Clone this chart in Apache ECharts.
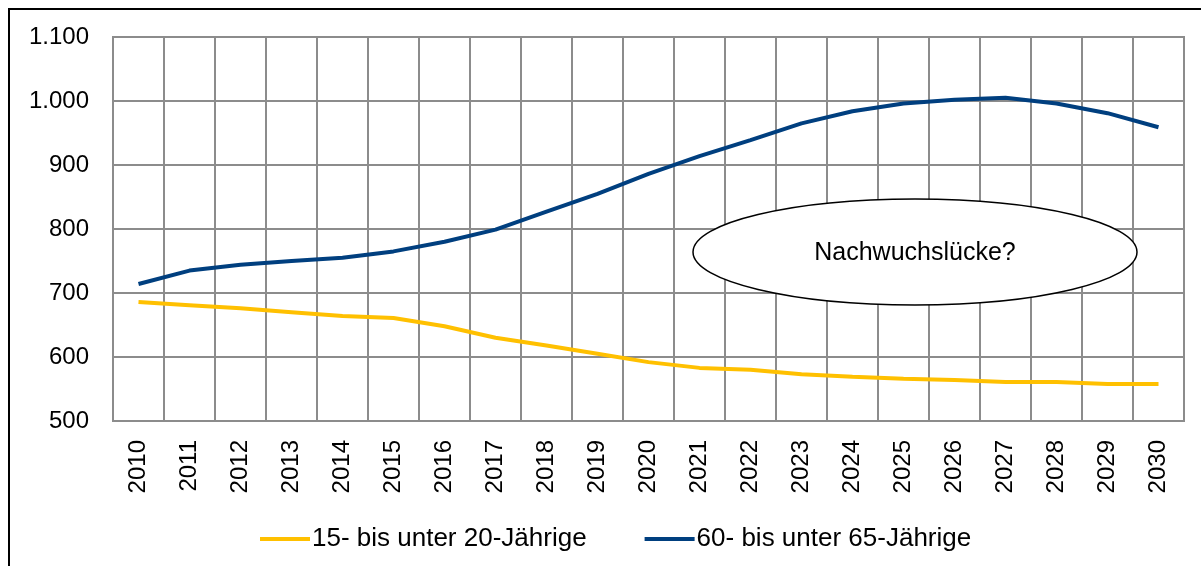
<!DOCTYPE html>
<html>
<head>
<meta charset="utf-8">
<script src="https://cdn.jsdelivr.net/npm/echarts@6/dist/echarts.min.js"></script>
<style>
html,body{margin:0;padding:0;background:#fff;}
#chart{width:1201px;height:566px;}
</style>
</head>
<body>
<div id="chart"></div>
<script>
const years = ['2010','2011','2012','2013','2014','2015','2016','2017','2018','2019','2020','2021','2022','2023','2024','2025','2026','2027','2028','2029','2030'];
const youngName = '15- bis unter 20-Jährige';
const oldName = '60- bis unter 65-Jährige';
const youngValues = [686, 681, 676, 670, 664, 661, 648, 630, 618, 605, 592, 583, 580, 573, 569, 566, 564, 561, 561, 558, 558];
const oldValues = [714, 735, 744, 750, 755, 765, 780, 799, 827, 855, 886, 914, 939, 965, 984, 996, 1002, 1005, 996, 981, 959];
const yMin = 500, yMax = 1100, yStep = 100;
const annotationText = 'Nachwuchslücke?';

const FONT = 'Liberation Sans, Arial, sans-serif';
const GRID = '#8c8c8c';

function fmt(v){
  return String(v).replace(/\B(?=(\d{3})+(?!\d))/g, '.');
}

const chart = echarts.init(document.getElementById('chart'), null, {renderer:'canvas'});
chart.setOption({
  animation: false,
  backgroundColor: '#fff',
  grid: {left: 113, right: 17, top: 37, bottom: 145, show: true, borderColor: GRID, borderWidth: 2, backgroundColor: 'transparent'},
  legend: {
    data: [youngName, oldName],
    left: 255, top: 521,
    icon: 'rect', itemWidth: 50, itemHeight: 4, itemGap: 58,
    textStyle: {fontFamily: FONT, fontSize: 26, color: '#000', padding: [0,0,0,-3]}
  },
  xAxis: {
    type: 'category', data: years, boundaryGap: true,
    axisLine: {show: true, lineStyle: {color: GRID, width: 2}},
    axisTick: {show: false},
    splitLine: {show: true, lineStyle: {color: GRID, width: 2}},
    axisLabel: {rotate: 90, margin: 19, fontFamily: FONT, fontSize: 24, color: '#000', interval: 0}
  },
  yAxis: {
    type: 'value', min: yMin, max: yMax, interval: yStep,
    axisLine: {show: true, lineStyle: {color: GRID, width: 2}},
    axisTick: {show: false},
    splitLine: {show: true, lineStyle: {color: GRID, width: 2}},
    axisLabel: {margin: 24, fontFamily: FONT, fontSize: 24, color: '#000', formatter: fmt}
  },
  series: [
    {name: youngName, type: 'line', data: youngValues, symbol: 'none', lineStyle: {color: '#FFC000', width: 4}, itemStyle: {color: '#FFC000'}, z: 3},
    {name: oldName, type: 'line', data: oldValues, symbol: 'none', lineStyle: {color: '#003F7F', width: 4}, itemStyle: {color: '#003F7F'}, z: 3}
  ],
  graphic: [
    {type: 'polyline', shape: {points: [[9,566],[9,9],[1201,9]]}, style: {stroke: '#000', lineWidth: 2, fill: null}, z: 100},
    {type: 'ellipse', shape: {cx: 915, cy: 252, rx: 222, ry: 53}, style: {fill: '#fff', stroke: '#000', lineWidth: 1.5}, z: 50},
    {type: 'text', x: 915, y: 253, style: {text: annotationText, font: '25px ' + FONT, fill: '#000', align: 'center', verticalAlign: 'middle'}, z: 51}
  ]
});
</script>
</body>
</html>
